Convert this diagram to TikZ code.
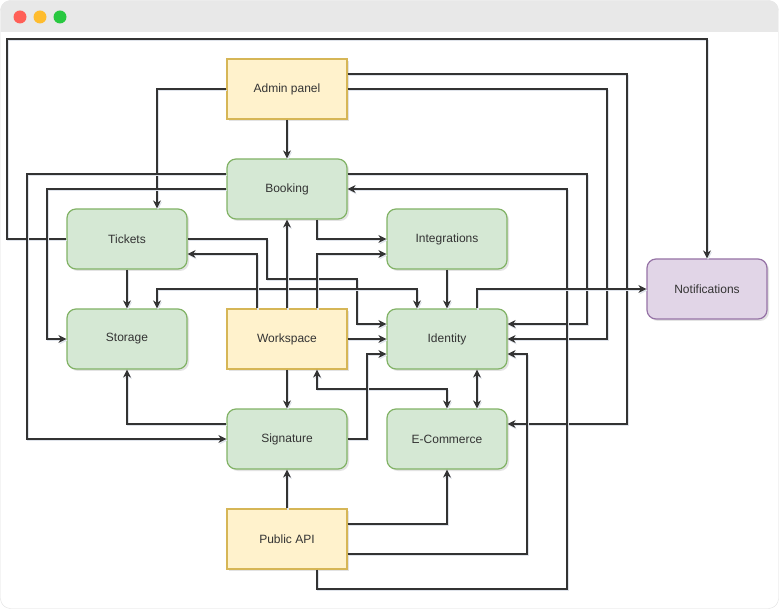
\documentclass[tikz,border=0pt]{standalone}
\usepackage{fontspec}
\setmainfont{Liberation Sans}
\usetikzlibrary{arrows.meta,calc,shadows}
\definecolor{gfill}{HTML}{D5E8D4}\definecolor{gline}{HTML}{82B366}
\definecolor{yfill}{HTML}{FFF2CC}\definecolor{yline}{HTML}{D6B656}
\definecolor{pfill}{HTML}{E1D5E7}\definecolor{pline}{HTML}{9673A6}
\definecolor{txt}{HTML}{333333}\definecolor{edgecol}{HTML}{333333}
\definecolor{barcol}{HTML}{E8E8E8}\definecolor{edgeshadow}{HTML}{DFE3EA}
\definecolor{dotred}{HTML}{FF5F57}\definecolor{dotyellow}{HTML}{FEBC2E}\definecolor{dotgreen}{HTML}{28C840}
\tikzset{
  box/.style={minimum width=120pt, minimum height=60pt, inner sep=0pt, line width=1.2pt,
    font=\fontsize{12}{14}\selectfont, text=txt,
    drop shadow={shadow xshift=2pt, shadow yshift=-2pt, opacity=0.18, fill=black!60}},
  gbox/.style={box, rounded corners=9pt, fill=gfill, draw=gline},
  ybox/.style={box, fill=yfill, draw=yline},
  pbox/.style={box, rounded corners=9pt, fill=pfill, draw=pline},
  tip/.tip={Stealth[length=8pt,width=8pt,inset=2.5pt]},
  conn/.style={draw=edgecol, line width=1.15pt, -tip,
    preaction={draw=edgeshadow, line width=1.4pt, transform canvas={shift={(1pt,-1.5pt)}}}},
  biconn/.style={conn, tip-tip},
}
\begin{document}
\begin{tikzpicture}[x=1pt,y=-1pt]
\useasboundingbox (0,0) rectangle (779,609);
% window
\path[fill=white, draw=black!12, rounded corners=10pt] (0.5,0.5) rectangle (778.5,608.5);
\begin{scope}
  \clip[rounded corners=10pt] (0.5,0.5) rectangle (778.5,608.5);
  \fill[barcol] (0,0) rectangle (779,32);
\end{scope}
\fill[dotred] (20,17) circle (6.5);
\fill[dotyellow] (40,17) circle (6.5);
\fill[dotgreen] (60,17) circle (6.5);
% nodes
\node[ybox] (admin) at (287,89) {Admin panel};
\node[gbox] (booking) at (287,189) {Booking};
\node[gbox] (tickets) at (127,239) {Tickets};
\node[gbox] (integ) at (447,239) {Integrations};
\node[gbox] (storage) at (127,339) {Storage};
\node[ybox] (work) at (287,339) {Workspace};
\node[gbox] (identity) at (447,339) {Identity};
\node[pbox] (notif) at (707,289) {Notifications};
\node[gbox] (sig) at (287,439) {Signature};
\node[gbox] (ecom) at (447,439) {E-Commerce};
\node[ybox] (papi) at (287,539) {Public API};
% connectors
\draw[conn] (tickets.west) -- (7,239) -- (7,39) -- (707,39) -- (notif.north);
\draw[conn] (admin.south) -- (booking.north);
\draw[conn] (admin.west) -- (157,89) -- ($(tickets.north)+(30,0)$);
\draw[conn] ($(admin.east)+(0,-15)$) -- (627,74) -- (627,424) -- ($(ecom.east)+(0,-15)$);
\draw[conn] (admin.east) -- (607,89) -- (607,339) -- (identity.east);
\draw[conn] ($(booking.east)+(0,-15)$) -- (587,174) -- (587,324) -- ($(identity.east)+(0,-15)$);
\draw[conn] ($(papi.south)+(30,0)$) -- (317,589) -- (567,589) -- (567,189) -- (booking.east);
\draw[conn] ($(booking.west)+(0,-15)$) -- (27,174) -- (27,439) -- (sig.west);
\draw[conn] (booking.west) -- (47,189) -- (47,339) -- (storage.west);
\draw[conn] ($(booking.south)+(30,0)$) -- (317,239) -- (integ.west);
\draw[conn] (tickets.south) -- (storage.north);
\draw[conn] (tickets.east) -- (267,239) -- (267,279) -- (357,279) -- (357,324) -- ($(identity.west)+(0,-15)$);
\draw[biconn] ($(storage.north)+(30,0)$) -- (157,289) -- (417,289) -- ($(identity.north)+(-30,0)$);
\draw[conn] ($(identity.north)+(30,0)$) -- (477,289) -- (notif.west);
\draw[conn] ($(work.north)+(-30,0)$) -- (257,254) -- ($(tickets.east)+(0,15)$);
\draw[conn] (work.north) -- (booking.south);
\draw[conn] ($(work.north)+(30,0)$) -- (317,254) -- ($(integ.west)+(0,15)$);
\draw[conn] (work.east) -- (identity.west);
\draw[conn] (work.south) -- (sig.north);
\draw[biconn] ($(work.south)+(30,0)$) -- (317,389) -- (447,389) -- (ecom.north);
\draw[conn] ($(sig.west)+(0,-15)$) -- (127,424) -- (storage.south);
\draw[conn] (sig.east) -- (367,439) -- (367,354) -- ($(identity.west)+(0,15)$);
\draw[conn] (papi.north) -- (sig.south);
\draw[conn] ($(papi.east)+(0,-15)$) -- (447,524) -- (ecom.south);
\draw[conn] ($(papi.east)+(0,15)$) -- (527,554) -- (527,354) -- ($(identity.east)+(0,15)$);
\draw[conn] (integ.south) -- (identity.north);
\draw[biconn] ($(identity.south)+(30,0)$) -- ($(ecom.north)+(30,0)$);
\end{tikzpicture}
\end{document}
